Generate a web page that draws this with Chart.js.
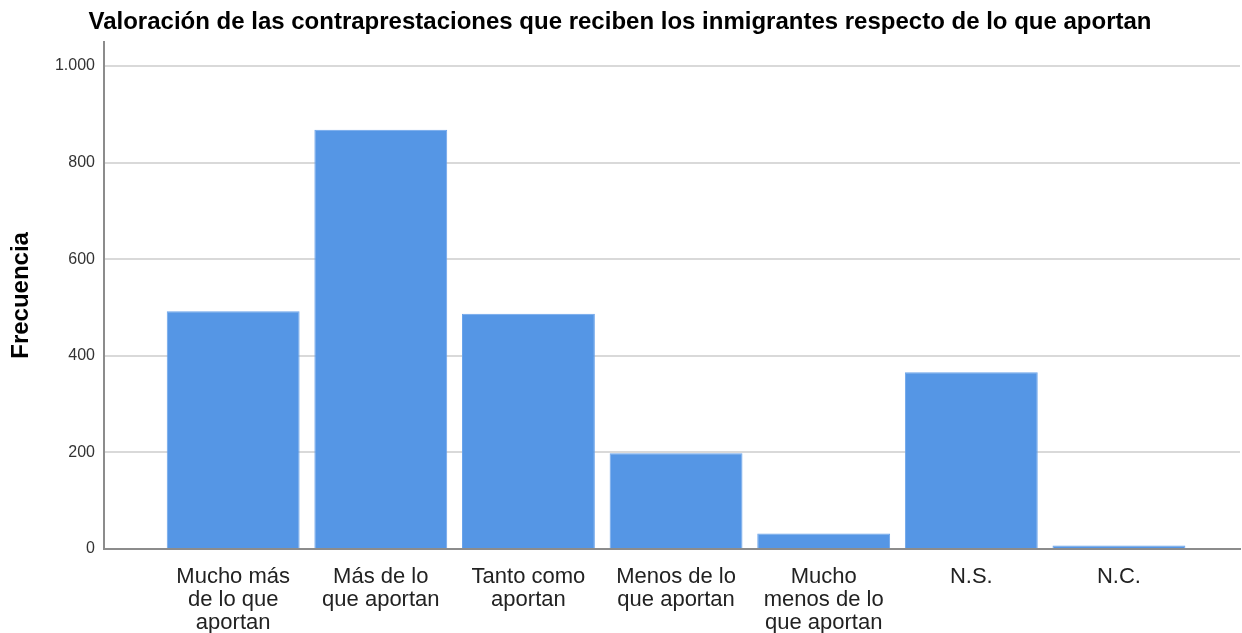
<!DOCTYPE html>
<html>
<head>
<meta charset="utf-8">
<script src="https://cdn.jsdelivr.net/npm/chart.js@4/dist/chart.umd.min.js"></script>
<style>
  html, body { margin: 0; padding: 0; background: #ffffff; }
  #wrap { width: 1242px; height: 633px; position: relative; }
</style>
</head>
<body>
<div id="wrap"><canvas id="c" width="1242" height="633"></canvas></div>
<script>
const chartTitle = 'Valoración de las contraprestaciones que reciben los inmigrantes respecto de lo que aportan';
const yAxisTitle = 'Frecuencia';
const categories = [
  ['Mucho más', 'de lo que', 'aportan'],
  ['Más de lo', 'que aportan'],
  ['Tanto como', 'aportan'],
  ['Menos de lo', 'que aportan'],
  ['Mucho', 'menos de lo', 'que aportan'],
  ['N.S.'],
  ['N.C.']
];
const frecuencias = [492, 868, 487, 198, 32, 366, 7];
const yTicks = [0, 200, 400, 600, 800, 1000];

function fmtES(v) {
  return String(v).replace(/\B(?=(\d{3})+(?!\d))/g, '.');
}

const points = frecuencias.map((v, i) => ({ x: i, y: v }));
const FONT = 'Liberation Sans, Arial, sans-serif';

new Chart(document.getElementById('c'), {
  type: 'bar',
  data: {
    datasets: [{
      data: points,
      backgroundColor: '#5596e5',
      borderColor: '#6aa3ea',
      borderWidth: 1,
      barPercentage: 0.9,
      categoryPercentage: 1.0
    }]
  },
  options: {
    responsive: false,
    animation: false,
    layout: { padding: { left: 0, right: 2, top: 0, bottom: 0 } },
    plugins: {
      legend: { display: false },
      tooltip: { enabled: false },
      title: {
        display: true,
        text: chartTitle,
        color: '#000000',
        font: { family: FONT, size: 24, weight: 'bold', lineHeight: 1.2 },
        padding: { top: 8, bottom: 5 }
      }
    },
    scales: {
      x: {
        type: 'linear',
        offset: false,
        min: -0.875,
        max: 6.82,
        grid: { display: false, offset: false },
        border: { display: true, color: '#8c8c8c', width: 2 },
        afterBuildTicks: (scale) => { scale.ticks = categories.map((_, i) => ({ value: i })); },
        afterFit: (scale) => { scale.height = 84; },
        ticks: {
          autoSkip: false,
          maxRotation: 0,
          minRotation: 0,
          padding: 8,
          color: '#222222',
          font: { family: FONT, size: 22, lineHeight: 1.045 },
          callback: (v) => categories[v] || ''
        }
      },
      y: {
        min: 0,
        max: 1050,
        afterBuildTicks: (scale) => { scale.ticks = yTicks.map(v => ({ value: v })); },
        afterFit: (scale) => { scale.width = 104; },
        grid: { color: '#d9d9d9', lineWidth: 2, drawTicks: false },
        border: { display: true, color: '#8c8c8c', width: 2 },
        ticks: {
          padding: 9,
          color: '#333333',
          font: { family: FONT, size: 16 },
          callback: (v) => fmtES(v)
        },
        title: {
          display: true,
          text: yAxisTitle,
          color: '#000000',
          font: { family: FONT, size: 24, weight: 'bold', lineHeight: 1.2 },
          padding: { top: 7, bottom: 0 }
        }
      }
    }
  }
});
</script>
</body>
</html>
